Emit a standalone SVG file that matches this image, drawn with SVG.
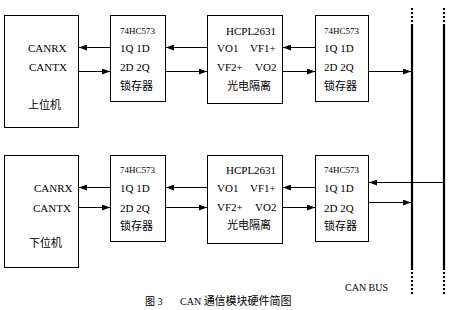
<svg xmlns="http://www.w3.org/2000/svg" width="451" height="310" viewBox="0 0 451 310">
<defs>
<style>
.box{fill:#fff;stroke:#000;stroke-width:1}
.t{font-family:"Liberation Serif","Noto Sans CJK SC",serif;font-size:11px;fill:#000}
.s{font-size:9px}
.m{font-size:10px}
.w{stroke:#000;stroke-width:1;fill:none}
.bus{stroke:#000;stroke-width:2.2;fill:none}
.dot{stroke:#000;stroke-width:2.2;fill:none;stroke-dasharray:2,2}
</style>
<marker id="ah" viewBox="0 0 8 6" refX="8" refY="3" markerWidth="8" markerHeight="6" markerUnits="userSpaceOnUse" orient="auto">
<path d="M0,0 L8,3 L0,6 Z" fill="#000"/>
</marker>
</defs>
<rect width="451" height="310" fill="#fff"/>

<g id="upper-pc">
<rect class="box" x="4.5" y="15.5" width="74" height="112"/>
<text class="t" x="28" y="52">CANRX</text>
<text class="t" x="29" y="71">CANTX</text>
<text class="t" x="28" y="109">上位机</text>
</g>
<g id="upper-latch1">
<rect class="box" x="110.5" y="15.5" width="55" height="86"/>
<text class="t s" x="120" y="34">74HC573</text>
<text class="t" x="120" y="52">1Q 1D</text>
<text class="t" x="120" y="71">2D 2Q</text>
<text class="t" x="120" y="90">锁存器</text>
</g>
<g id="upper-hcpl">
<rect class="box" x="207.5" y="15.5" width="75" height="88"/>
<text class="t" x="226" y="35">HCPL2631</text>
<text class="t" x="217" y="52">VO1</text>
<text class="t" x="250" y="52">VF1+</text>
<text class="t" x="217" y="71">VF2+</text>
<text class="t" x="255" y="71">VO2</text>
<text class="t" x="227" y="90">光电隔离</text>
</g>
<g id="upper-latch2">
<rect class="box" x="315.5" y="15.5" width="53" height="86"/>
<text class="t s" x="324" y="34">74HC573</text>
<text class="t" x="324" y="52">1Q 1D</text>
<text class="t" x="324" y="71">2D 2Q</text>
<text class="t" x="324" y="90">锁存器</text>
</g>

<g id="lower-pc">
<rect class="box" x="4.5" y="155.5" width="74" height="112"/>
<text class="t" x="34" y="192">CANRX</text>
<text class="t" x="33" y="212">CANTX</text>
<text class="t" x="29" y="247">下位机</text>
</g>
<g id="lower-latch1">
<rect class="box" x="110.5" y="155.5" width="55" height="86"/>
<text class="t s" x="120" y="173">74HC573</text>
<text class="t" x="120" y="192">1Q 1D</text>
<text class="t" x="120" y="212">2D 2Q</text>
<text class="t" x="120" y="230">锁存器</text>
</g>
<g id="lower-hcpl">
<rect class="box" x="207.5" y="155.5" width="75" height="88"/>
<text class="t" x="226" y="174">HCPL2631</text>
<text class="t" x="217" y="192">VO1</text>
<text class="t" x="250" y="192">VF1+</text>
<text class="t" x="217" y="211">VF2+</text>
<text class="t" x="255" y="211">VO2</text>
<text class="t" x="227" y="229">光电隔离</text>
</g>
<g id="lower-latch2">
<rect class="box" x="315.5" y="155.5" width="53" height="86"/>
<text class="t s" x="324" y="173">74HC573</text>
<text class="t" x="324" y="192">1Q 1D</text>
<text class="t" x="324" y="212">2D 2Q</text>
<text class="t" x="324" y="230">锁存器</text>
</g>

<g id="can-bus">
<line class="dot" x1="412" y1="8" x2="412" y2="24"/>
<line class="bus" x1="412" y1="24" x2="412" y2="270"/>
<line class="dot" x1="412" y1="272" x2="412" y2="294"/>
<line class="dot" x1="444" y1="8" x2="444" y2="24"/>
<line class="bus" x1="444" y1="24" x2="444" y2="270"/>
<line class="dot" x1="444" y1="272" x2="444" y2="294"/>
<text class="t m" x="345" y="291">CAN BUS</text>
</g>

<g id="connectors">
<line class="w" x1="110" y1="47.5" x2="79" y2="47.5" marker-end="url(#ah)"/>
<line class="w" x1="79" y1="71.5" x2="110" y2="71.5" marker-end="url(#ah)"/>
<line class="w" x1="207" y1="47.5" x2="166" y2="47.5" marker-end="url(#ah)"/>
<line class="w" x1="166" y1="71.5" x2="207" y2="71.5" marker-end="url(#ah)"/>
<line class="w" x1="315" y1="47.5" x2="283" y2="47.5" marker-end="url(#ah)"/>
<line class="w" x1="283" y1="71.5" x2="315" y2="71.5" marker-end="url(#ah)"/>
<line class="w" x1="369" y1="71.5" x2="411" y2="71.5" marker-end="url(#ah)"/>

<line class="w" x1="110" y1="187.5" x2="79" y2="187.5" marker-end="url(#ah)"/>
<line class="w" x1="79" y1="207.5" x2="110" y2="207.5" marker-end="url(#ah)"/>
<line class="w" x1="207" y1="187.5" x2="166" y2="187.5" marker-end="url(#ah)"/>
<line class="w" x1="166" y1="207.5" x2="207" y2="207.5" marker-end="url(#ah)"/>
<line class="w" x1="315" y1="187.5" x2="283" y2="187.5" marker-end="url(#ah)"/>
<line class="w" x1="283" y1="207.5" x2="315" y2="207.5" marker-end="url(#ah)"/>
<line class="w" x1="444" y1="182.5" x2="369" y2="182.5" marker-end="url(#ah)"/>
<line class="w" x1="369" y1="202.5" x2="411" y2="202.5" marker-end="url(#ah)"/>
</g>

<text class="t m" x="145" y="305">图 3</text>
<text class="t m" x="180" y="305">CAN <tspan style="font-size:11px">通信模块硬件简图</tspan></text>
</svg>
